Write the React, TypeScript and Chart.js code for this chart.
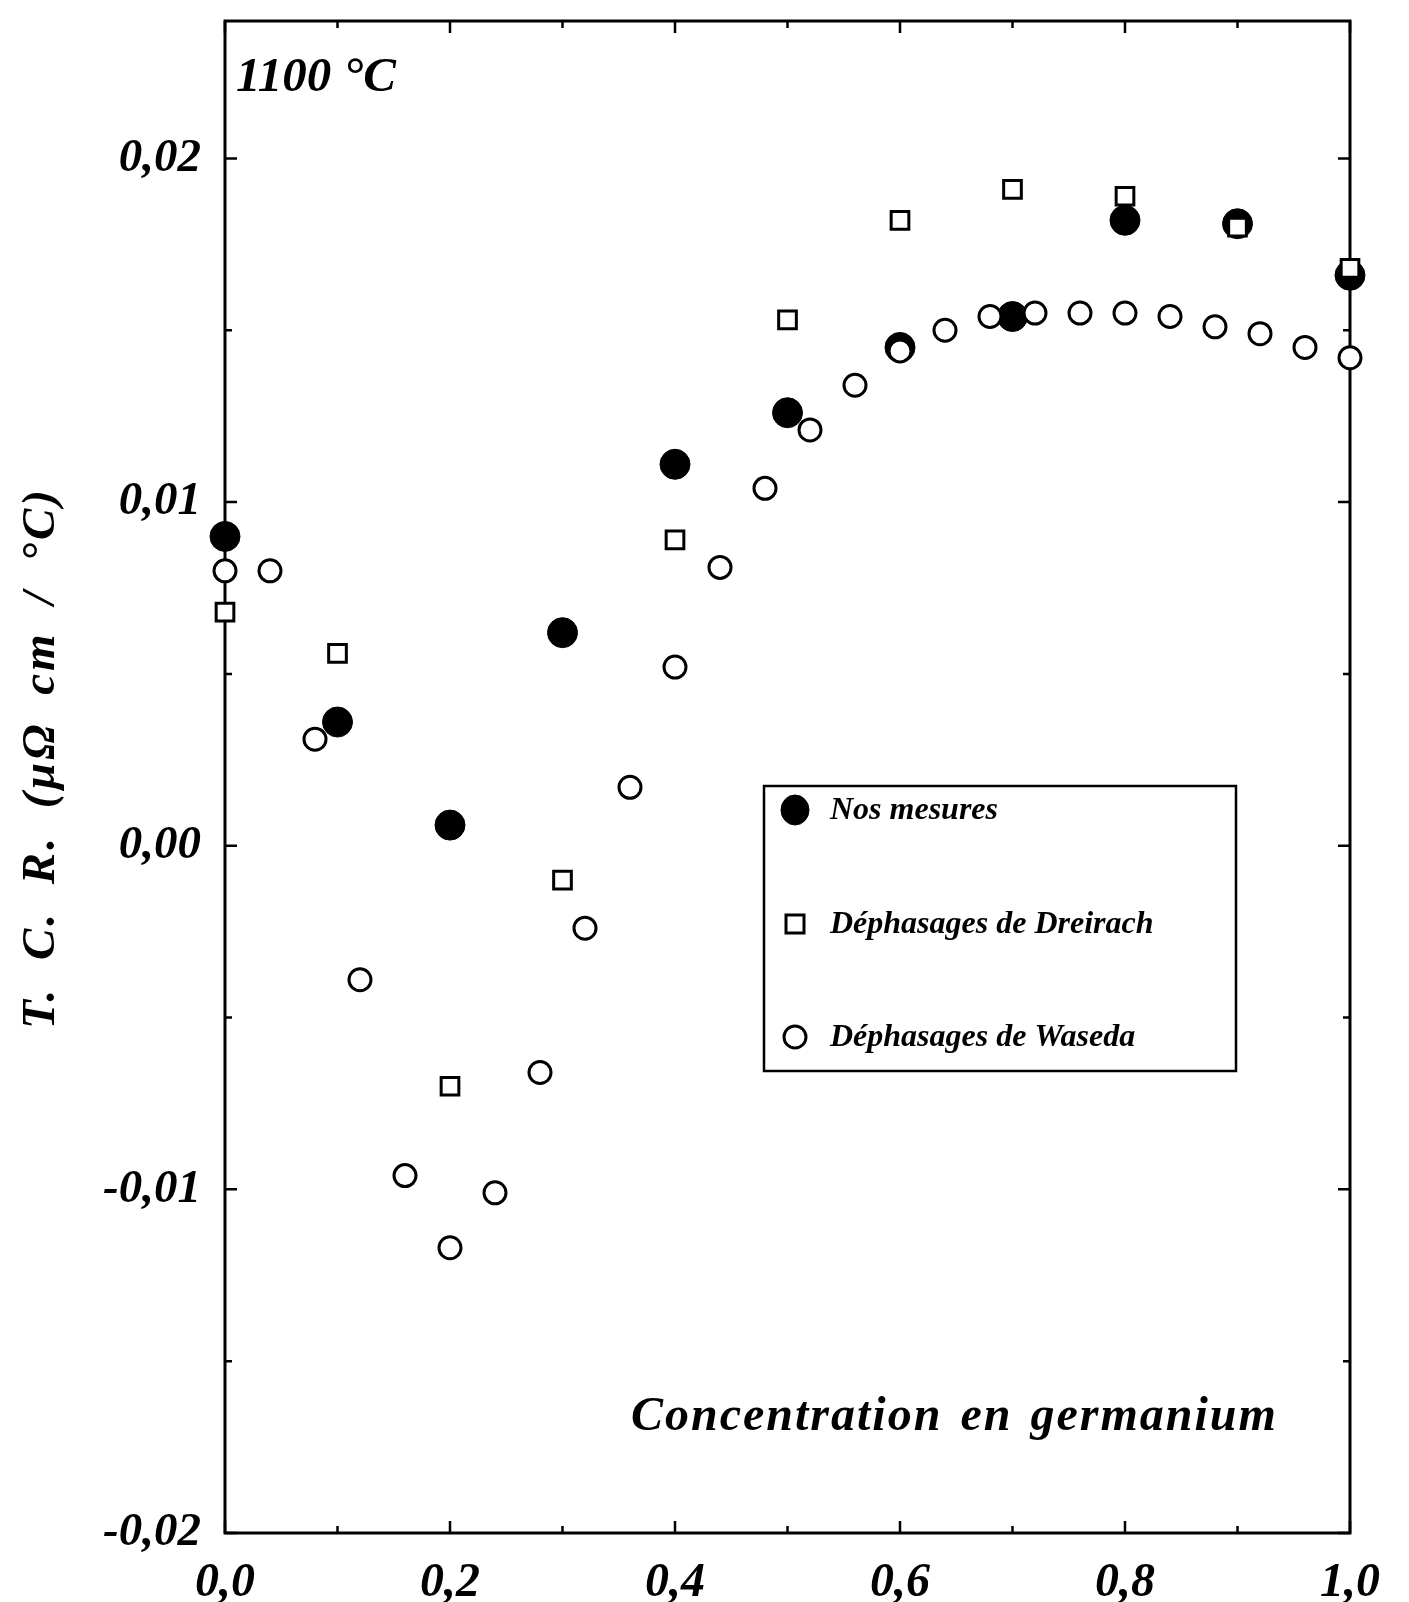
import React, { useEffect, useRef } from "react";
import { Chart, registerables } from "chart.js";

Chart.register(...registerables);

// ---- data ----
const xNos = [0, 0.1, 0.2, 0.3, 0.4, 0.5, 0.6, 0.7, 0.8, 0.9, 1.0];
const yNos = [0.009, 0.0036, 0.0006, 0.0062, 0.0111, 0.0126, 0.0145, 0.0154, 0.0182, 0.0181, 0.0166];

const xDre = [0, 0.1, 0.2, 0.3, 0.4, 0.5, 0.6, 0.7, 0.8, 0.9, 1.0];
const yDre = [0.0068, 0.0056, -0.007, -0.001, 0.0089, 0.0153, 0.0182, 0.0191, 0.0189, 0.018, 0.0168];

const xWas = [0, 0.04, 0.08, 0.12, 0.16, 0.2, 0.24, 0.28, 0.32, 0.36, 0.4, 0.44, 0.48, 0.52, 0.56, 0.6, 0.64, 0.68, 0.72, 0.76, 0.8, 0.84, 0.88, 0.92, 0.96, 1.0];
const yWas = [0.008, 0.008, 0.0031, -0.0039, -0.0096, -0.0117, -0.0101, -0.0066, -0.0024, 0.0017, 0.0052, 0.0081, 0.0104, 0.0121, 0.0134, 0.0144, 0.015, 0.0154, 0.0155, 0.0155, 0.0155, 0.0154, 0.0151, 0.0149, 0.0145, 0.0142];

const seriesNames = ["Nos mesures", "Déphasages de Dreirach", "Déphasages de Waseda"];
const yTitle = "T. C. R. (µΩ cm / °C)";
const xTitle = "Concentration en germanium";
const tempLabel = "1100 °C";

const SERIF = "'Liberation Serif', 'DejaVu Serif', serif";

const fmt = (v: number) => {
  const s = v.toFixed(2).replace(".", ",");
  return s === "-0,00" ? "0,00" : s;
};

const frameTicks = {
  id: "frameTicks",
  beforeDatasetsDraw(chart: any) {
    const { ctx, chartArea: a, scales } = chart;
    ctx.save();
    ctx.strokeStyle = "#000";
    ctx.lineWidth = 3;
    ctx.strokeRect(a.left, a.top, a.right - a.left, a.bottom - a.top);
    ctx.lineWidth = 2.5;
    const ys = scales.y;
    ys.ticks.forEach((t: any) => {
      const p = ys.getPixelForValue(t.value);
      const major = Math.abs(Math.round(t.value * 100) - t.value * 100) < 1e-6;
      const L = major ? 12 : 7;
      ctx.beginPath();
      ctx.moveTo(a.left, p);
      ctx.lineTo(a.left + L, p);
      ctx.moveTo(a.right, p);
      ctx.lineTo(a.right - L, p);
      ctx.stroke();
    });
    const xs = scales.x;
    xs.ticks.forEach((t: any) => {
      const p = xs.getPixelForValue(t.value);
      const major = Math.abs(Math.round(t.value * 5) - t.value * 5) < 1e-6;
      const L = major ? 12 : 7;
      ctx.beginPath();
      ctx.moveTo(p, a.bottom);
      ctx.lineTo(p, a.bottom - L);
      ctx.moveTo(p, a.top);
      ctx.lineTo(p, a.top + L);
      ctx.stroke();
    });
    // y axis title
    ctx.save();
    ctx.fillStyle = "#000";
    ctx.font = `italic bold 47px ${SERIF}`;
    (ctx as any).letterSpacing = "3px";
    (ctx as any).wordSpacing = "12px";
    ctx.textAlign = "center";
    ctx.textBaseline = "middle";
    ctx.translate(42, 758);
    ctx.rotate(-Math.PI / 2);
    ctx.fillText(yTitle, 0, 0);
    ctx.restore();
    ctx.restore();
  },
  afterDatasetsDraw(chart: any) {
    const { ctx } = chart;
    ctx.save();
    ctx.fillStyle = "#000";
    ctx.textBaseline = "middle";
    ctx.textAlign = "left";
    // temperature label
    ctx.font = `italic bold 49px ${SERIF}`;
    ctx.fillText(tempLabel, 236, 78);
    // x axis title inside plot
    ctx.font = `italic bold 48px ${SERIF}`;
    (ctx as any).letterSpacing = "2px";
    (ctx as any).wordSpacing = "4px";
    ctx.fillText(xTitle, 631, 1418);
    (ctx as any).letterSpacing = "0px";
    (ctx as any).wordSpacing = "0px";

    // legend box
    ctx.lineWidth = 2.5;
    ctx.strokeStyle = "#000";
    ctx.strokeRect(764, 786, 472, 285);
    const rows = [810, 924, 1037];
    ctx.font = `italic bold 32px ${SERIF}`;
    chart.data.datasets.forEach((ds: any, i: number) => {
      const y = rows[i];
      const x = 795;
      ctx.lineWidth = ds.borderWidth;
      ctx.strokeStyle = ds.borderColor;
      ctx.fillStyle = ds.backgroundColor;
      ctx.beginPath();
      if (ds.pointStyle === "rect") {
        ctx.rect(x - 9, y - 9, 18, 18);
      } else if (i === 0) {
        ctx.ellipse(x, y, 14, 15, 0, 0, Math.PI * 2);
      } else {
        ctx.arc(x, y, 11, 0, Math.PI * 2);
      }
      ctx.fill();
      ctx.stroke();
      ctx.fillStyle = "#000";
      ctx.fillText(ds.label, 830, y + 1);
    });
    ctx.restore();
  },
};

export default function App() {
  const ref = useRef<HTMLCanvasElement>(null);
  useEffect(() => {
    const chart = new Chart(ref.current as HTMLCanvasElement, {
      type: "scatter",
      data: {
        datasets: [
          {
            label: seriesNames[0],
            data: xNos.map((x, i) => ({ x, y: yNos[i] })),
            pointStyle: "circle",
            pointRadius: 15,
            backgroundColor: "#000",
            borderColor: "#000",
            borderWidth: 1,
            order: 3,
            clip: false,
          },
          {
            label: seriesNames[1],
            data: xDre.map((x, i) => ({ x, y: yDre[i] })),
            pointStyle: "rect",
            pointRadius: 12.5,
            backgroundColor: "#fff",
            borderColor: "#000",
            borderWidth: 3,
            order: 2,
            clip: false,
          },
          {
            label: seriesNames[2],
            data: xWas.map((x, i) => ({ x, y: yWas[i] })),
            pointStyle: "circle",
            pointRadius: 11,
            backgroundColor: "#fff",
            borderColor: "#000",
            borderWidth: 3,
            order: 1,
            clip: false,
          },
        ],
      },
      options: {
        animation: false,
        responsive: false,
        devicePixelRatio: 1,
        layout: { padding: { left: 11, right: 59, top: 21, bottom: 0 } },
        plugins: { legend: { display: false }, tooltip: { enabled: false } },
        scales: {
          x: {
            type: "linear",
            min: 0,
            max: 1,
            grid: { display: false },
            border: { display: false },
            afterFit: (s: any) => {
              s.height = 69;
              s.paddingLeft = 0;
              s.paddingRight = 0;
            },
            ticks: {
              stepSize: 0.1,
              padding: 14,
              maxRotation: 0,
              autoSkip: false,
              color: "#000",
              font: { family: SERIF, size: 48, style: "italic", weight: "bold" },
              callback: (v: any) => {
                const n = Number(v);
                return Math.abs(Math.round(n * 5) - n * 5) < 1e-6 ? n.toFixed(1).replace(".", ",") : "";
              },
            },
          },
          y: {
            type: "linear",
            min: -0.02,
            max: 0.024,
            grid: { display: false },
            border: { display: false },
            afterFit: (s: any) => {
              s.width = 214;
              s.paddingTop = 0;
              s.paddingBottom = 0;
            },
            ticks: {
              stepSize: 0.005,
              includeBounds: false,
              padding: 16,
              autoSkip: false,
              color: "#000",
              font: { family: SERIF, size: 47, style: "italic", weight: "bold" },
              callback: (v: any) => {
                const n = Number(v);
                return Math.abs(Math.round(n * 100) - n * 100) < 1e-6 ? fmt(n) : "";
              },
            },
          },
        },
      },
      plugins: [frameTicks],
    });
    return () => chart.destroy();
  }, []);
  return (
    <div style={{ position: "absolute", left: 0, top: 0, width: 1409, height: 1602, background: "#fff" }}>
      <canvas ref={ref} width={1409} height={1602} style={{ display: "block" }} />
    </div>
  );
}
